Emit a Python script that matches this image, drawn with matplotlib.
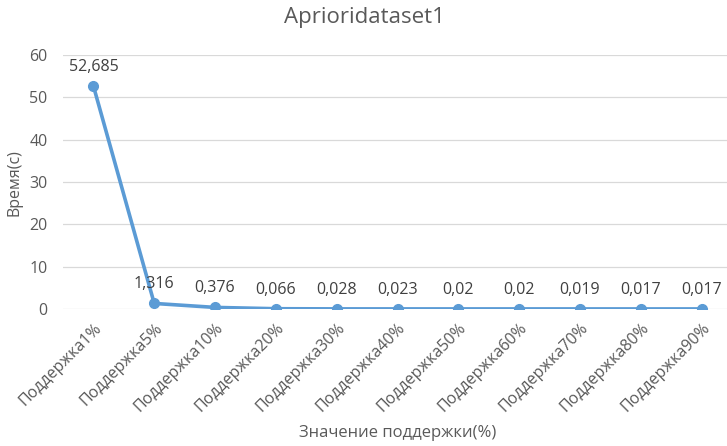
import matplotlib
matplotlib.use("Agg")
from matplotlib import pyplot as plt

categories = ["Поддержка1%", "Поддержка5%", "Поддержка10%", "Поддержка20%",
              "Поддержка30%", "Поддержка40%", "Поддержка50%", "Поддержка60%",
              "Поддержка70%", "Поддержка80%", "Поддержка90%"]
times = [52.685, 1.316, 0.376, 0.066, 0.028, 0.023, 0.02, 0.02, 0.019, 0.017, 0.017]
labels = ["52,685", "1,316", "0,376", "0,066", "0,028", "0,023", "0,02", "0,02",
          "0,019", "0,017", "0,017"]
y_ticks = [0, 10, 20, 30, 40, 50, 60]

plt.rcParams['font.family'] = ['Open Sans', 'DejaVu Sans']
text_color = '#595959'
line_color = '#5B9BD5'
grid_color = '#D9D9D9'

fig = plt.figure(figsize=(7.27, 4.46), dpi=100)
W, H = 727, 446
left, right, top, bottom = 63, 732, 55, 309
ax = fig.add_axes([left / W, 1 - bottom / H, (right - left) / W, (bottom - top) / H])

x = list(range(len(categories)))
ax.plot(x, times, '-o', color=line_color, lw=2.6, markersize=7, zorder=3,
        solid_capstyle='round')

for xi, yi, lab in zip(x, times, labels):
    ax.annotate(lab, (xi, yi), xytext=(0, 8), textcoords='offset points',
                ha='center', va='bottom', fontsize=11.5, color='#404040')

ax.set_xlim(-0.5, len(categories) - 0.5)
ax.set_ylim(0, 60)
ax.set_yticks(y_ticks)
ax.set_xticks(x)
ax.set_xticklabels(categories, rotation=45, ha='right', rotation_mode='anchor',
                   fontsize=11.5, color=text_color)
ax.tick_params(axis='y', labelsize=11.5, labelcolor=text_color, length=0, pad=11)
ax.tick_params(axis='x', length=0, pad=8)
ax.grid(axis='y', color=grid_color, lw=0.9)
ax.set_axisbelow(True)
for s in ax.spines.values():
    s.set_visible(False)

fig.text(15 / W, 1 - 183 / H, "Время(с)", rotation=90, ha='center', va='center',
         fontsize=11.5, color=text_color)
fig.text(398 / W, 1 - 433 / H, "Значение поддержки(%)", ha='center', va='center',
         fontsize=12, color=text_color)
fig.text(364 / W, 1 - 18 / H, "Aprioridataset1", ha='center', va='center',
         fontsize=16, color=text_color)

fig.savefig("out.png", dpi=100)
